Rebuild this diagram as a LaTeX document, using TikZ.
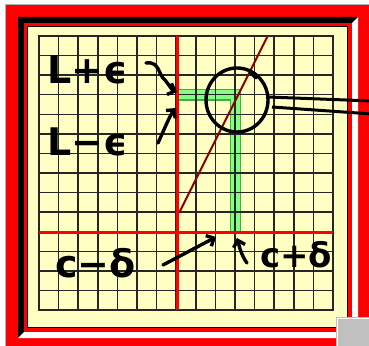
\documentclass[tikz,border=0pt]{standalone}
\usepackage{fontspec}
\setmainfont{DejaVu Sans}
\usetikzlibrary{arrows.meta,shapes.geometric}

\definecolor{framered}{RGB}{255,0,0}
\definecolor{paper}{RGB}{255,255,196}
\definecolor{bandgreen}{RGB}{128,255,128}
\definecolor{bandedge}{RGB}{70,170,70}
\definecolor{maroon}{RGB}{140,0,0}
\definecolor{btngray}{RGB}{192,192,192}

\begin{document}
\begin{tikzpicture}[x=1pt,y=-1pt,
  ink/.style={line width=3.4pt,line cap=round,line join=round},
  inkarrow/.style={ink,-{Straight Barb[length=6pt,width=12pt]}},
  scrawl/.style={font=\bfseries\fontsize{38}{38}\selectfont,inner sep=0pt,anchor=base west},
  gridline/.style={line width=1.5pt,black!85}]
\useasboundingbox (0,0) rectangle (369,345);
\fill[white] (0,0) rectangle (369,345);

% window frame
\draw[gray!60,line width=1pt] (5.5,346) -- (5.5,4.5) -- (370,4.5);
\fill[framered] (6,5) rectangle (372,350);
\fill[black] (18,17) -- (358,17) -- (352,23) -- (24,23) -- (24,332) -- (18,338) -- cycle;
\fill[white] (358,17) -- (358,338) -- (18,338) -- (24,332) -- (352,332) -- (352,23) -- cycle;
\fill[framered] (24,23) rectangle (352,332);
\draw[fill=paper,line width=1pt] (27.5,26.5) rectangle (347.5,327.5);

% green bands
\draw[bandedge,line width=11.5pt] (177.5,94.8) -- (235.6,94.8) -- (235.6,232);
\draw[bandgreen,line width=9pt] (177.5,94.8) -- (235.6,94.8) -- (235.6,232);

% grid
\foreach \i in {0,...,15}
  \draw[gridline] ({39+\i*19.6},36) -- ({39+\i*19.6},310);
\foreach \j in {0,...,14}
  \draw[gridline] (39,{36+\j*19.57}) -- (333,{36+\j*19.57});
\draw[line width=2.4pt,black!85] (39,36) rectangle (333,310);

% graph and axes
\draw[maroon,line width=2pt] (267.7,36) -- (179,213);
\draw[framered,line width=3pt] (177.5,36) -- (177.5,310);
\draw[framered,line width=3pt] (39,232) -- (333,232);

% magnifier
\node[ink,draw,ellipse,minimum width=62pt,minimum height=64pt,inner sep=0pt] (lens) at (237,100) {};
\draw[ink] (250,72) -- (256,78);
\coordinate (hA) at (372,101);
\coordinate (hB) at (372,114);
\draw[line width=3pt] (268,97) -- (hA);
\draw[line width=3pt] (272,107) -- (hB);

% labels
\node[scrawl] (lplus) at (47,83) {L+ϵ};
\node[scrawl] (lminus) at (47,155) {L−ϵ};
\node[scrawl] (cminus) at (55,277) {c−δ};
\node[scrawl,font=\bfseries\fontsize{34}{34}\selectfont] (cplus) at (260,267) {c+δ};

% arrows
\coordinate (a1s) at (146,63);
\coordinate (a1e) at (177,92);
\coordinate (a2s) at (158,143);
\coordinate (a2e) at (176,108);
\coordinate (a3s) at (163,265);
\coordinate (a3e) at (216,237);
\coordinate (a4s) at (247,263);
\coordinate (a4e) at (237,238);
\draw[inkarrow] (a1s) .. controls (160,61) and (158,75) .. (165,80) .. controls (169,85) and (172,90) .. (a1e);
\draw[inkarrow] (a2s) .. controls (164,130) and (170,115) .. (a2e);
\draw[inkarrow] (a3s) -- (a3e);
\draw[inkarrow] (a4s) .. controls (241,255) and (239,245) .. (a4e);

% corner button
\draw[fill=btngray,draw=gray!50,line width=1pt] (336.5,317.5) rectangle (371,347);
\draw[white,line width=1pt] (337.5,346) -- (337.5,318.5) -- (370,318.5);
\end{tikzpicture}
\end{document}
